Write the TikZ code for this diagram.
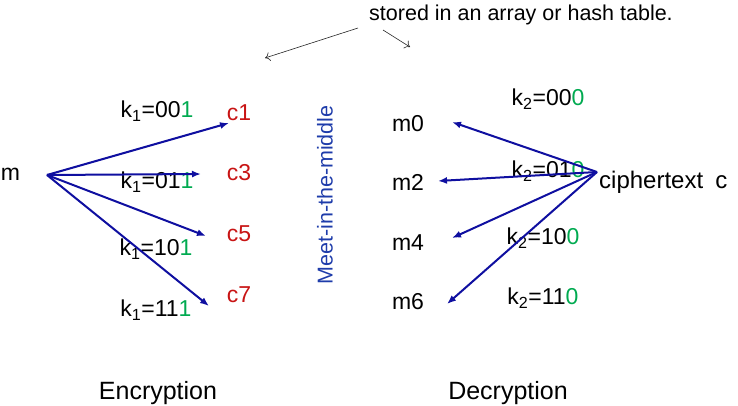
\documentclass[tikz,border=0pt]{standalone}
\usepackage{fontspec}
\setmainfont{Liberation Sans}
\usepackage{xcolor}
\usetikzlibrary{arrows.meta,positioning}

\definecolor{keyred}{RGB}{200,20,20}
\definecolor{keygreen}{RGB}{0,170,80}
\definecolor{arrowblue}{RGB}{15,15,160}
\definecolor{textblue}{RGB}{30,60,170}

\newcommand{\keylabel}[3]{k\textsubscript{#1}=#2\textcolor{keygreen}{#3}}

\begin{document}
\begin{tikzpicture}[x=1pt, y=-1pt,
  every node/.style={font=\fontsize{23}{27}\selectfont, inner sep=1pt},
  ctext/.style={text=keyred},
  small/.style={font=\fontsize{21.5}{25}\selectfont},
  caption/.style={font=\fontsize{25}{30}\selectfont},
  bluearr/.style={draw=arrowblue, line width=2pt, -{Latex[length=9pt,width=7pt]}},
  notearr/.style={draw=black!85, line width=0.6pt, -{To[length=5pt,width=9pt]}}]
\useasboundingbox (0,0) rectangle (738,406);

% encryption side
\node (m) at (10.5,174) {m};
\coordinate (mo) at (47,175);
\node[ctext] (c1) at (239,113) {c1};
\node[ctext] (c3) at (239,173) {c3};
\node[ctext] (c5) at (239,234) {c5};
\node[ctext] (c7) at (239,295) {c7};
\coordinate (e1) at (229,123);
\coordinate (e3) at (201,174);
\coordinate (e5) at (206,236);
\coordinate (e7) at (209,306);
\node (k11) at (157,111) {\keylabel{1}{00}{1}};
\node (k13) at (157,182) {\keylabel{1}{01}{1}};
\node (k15) at (156,249) {\keylabel{1}{10}{1}};
\node (k17) at (156,310) {\keylabel{1}{11}{1}};
\foreach \e in {e1,e3,e5,e7}
  \draw[bluearr] (mo) -- (\e);

% middle
\node[small, text=textblue, rotate=90] (mitm) at (325,195) {Meet-in-the-middle};

% decryption side
\node (m0) at (408,124) {m0};
\node (m2) at (408,182) {m2};
\node (m4) at (408,243) {m4};
\node (m6) at (408,302) {m6};
\node[anchor=west, font=\fontsize{24}{28}\selectfont] (ct) at (598,182) {ciphertext\hspace{12pt}c};
\coordinate (co) at (597,172);
\coordinate (d0) at (452,122);
\coordinate (d2) at (438,181);
\coordinate (d4) at (452,238);
\coordinate (d6) at (447,304);
\node (k20) at (548,99) {\keylabel{2}{00}{0}};
\node (k22) at (548,171) {\keylabel{2}{01}{0}};
\node (k24) at (543,238) {\keylabel{2}{10}{0}};
\node (k26) at (543,298) {\keylabel{2}{11}{0}};
\foreach \d in {d0,d2,d4,d6}
  \draw[bluearr] (co) -- (\d);

% note on top
\node[small] (note) at (521,15) {stored in an array or hash table.};
\coordinate (n1) at (358,28);
\coordinate (n1e) at (265,58);
\coordinate (n2) at (383,30);
\coordinate (n2e) at (410,47);
\draw[notearr] (n1) -- (n1e);
\draw[notearr] (n2) -- (n2e);

% captions
\node[caption] (enc) at (158,393) {Encryption};
\node[caption] (dec) at (508,393) {Decryption};
\end{tikzpicture}
\end{document}
